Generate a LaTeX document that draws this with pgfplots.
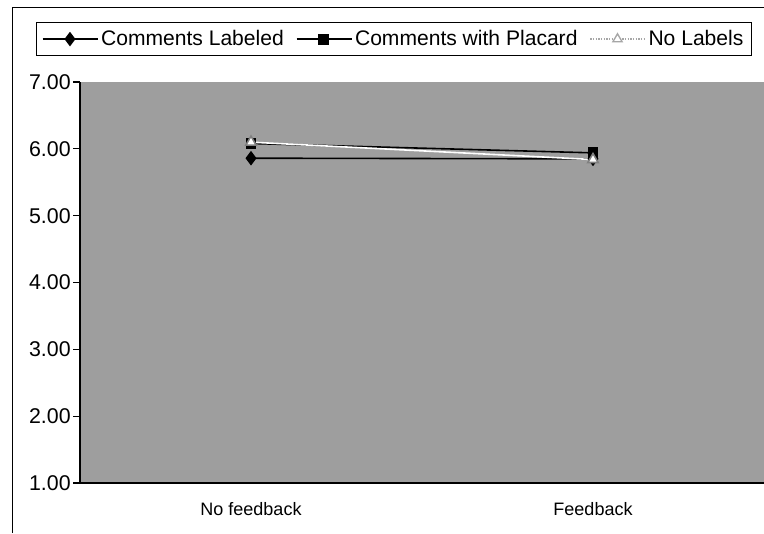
\documentclass[border=0pt]{standalone}
\usepackage{pgfplots}
\pgfplotsset{compat=1.18}
\usepackage{fontspec}
\setmainfont{Liberation Sans}
\begin{document}
\begin{tikzpicture}
\useasboundingbox (0pt,0pt) rectangle (573pt,399.75pt);
\draw[black, line width=0.6pt] (9pt,0pt) -- (9pt,394.5pt) -- (573pt,394.5pt);
\begin{axis}[
  at={(60pt,37.5pt)}, anchor=south west,
  scale only axis, width=513pt, height=300.75pt,
  xmin=-0.5, xmax=1.5, ymin=1, ymax=7,
  axis x line*=bottom, axis y line*=left,
  axis line style={black, line width=0.8pt, -},
  axis background/.style={fill=black!38},
  xtick={0,1}, xticklabels={No feedback, Feedback},
  x tick label style={font=\fontsize{13.5}{16}\selectfont, yshift=-6pt},
  major x tick style={draw=none},
  extra x ticks={0.5}, extra x tick labels={},
  extra x tick style={major tick length=6pt, tick align=outside, major tick style={draw=black, line width=0.8pt}},
  ytick={1,2,...,7},
  y tick label style={font=\fontsize{16}{19}\selectfont, xshift=1.5pt},
  /pgf/number format/fixed, /pgf/number format/fixed zerofill, /pgf/number format/precision=2,
  /pgf/number format/assume math mode=true,
  tick align=outside, major tick length=5pt,
  tick style={black, line width=0.8pt},
  legend columns=3,
  legend style={at={(0.459,1.107)}, anchor=center, draw=black, fill=white, line width=0.8pt,
    font=\fontsize{15.8}{18}\selectfont, /tikz/every even column/.append style={column sep=7pt},
    inner xsep=4pt, inner ysep=4pt, nodes={inner xsep=2pt}},
  legend image code/.code={\draw[#1] (0cm,0cm) -- (1.45cm,0cm); \draw[#1, only marks] plot coordinates {(0.72cm,0cm)};},
]
\addplot[black, line width=1.2pt, mark=diamond*, mark size=4.5pt, mark options={solid, fill=black}]
  coordinates {(0,5.86) (1,5.85)};
\addlegendentry{Comments Labeled}
\addplot[black, line width=1.2pt, mark=square*, mark size=3.5pt, mark options={solid, fill=black}]
  coordinates {(0,6.08) (1,5.94)};
\addlegendentry{Comments with Placard}
\addplot[white, line width=1.2pt, mark=triangle*, mark size=4.5pt, mark options={solid, fill=white, draw=black!50}, forget plot]
  coordinates {(0,6.10) (1,5.84)};
\addlegendimage{black!35, densely dotted, line width=1pt, mark=triangle*, mark size=4pt, mark options={solid, fill=white, draw=black!35}}
\addlegendentry{No Labels}
\end{axis}
\end{tikzpicture}
\end{document}
